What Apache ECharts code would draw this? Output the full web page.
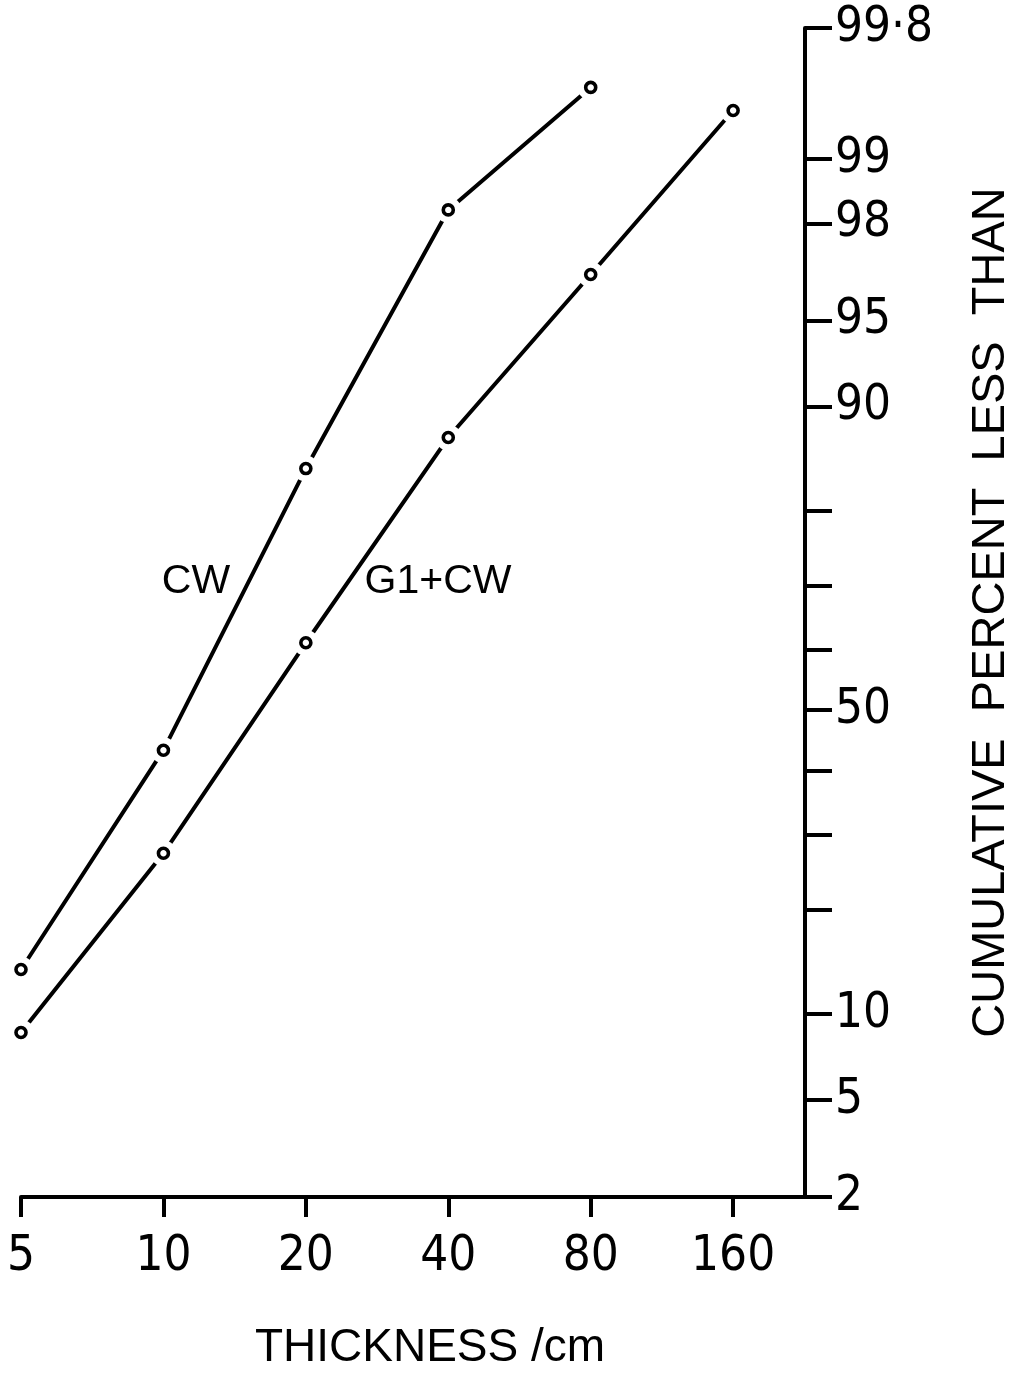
<!DOCTYPE html>
<html>
<head>
<meta charset="utf-8">
<script src="https://cdn.jsdelivr.net/npm/echarts@6/dist/echarts.min.js"></script>
<style>
  html, body { margin: 0; padding: 0; background: #ffffff; }
  #chart { width: 1021px; height: 1376px; }
</style>
</head>
<body>
<div id="chart"></div>
<script>
// Bed thickness (cm) against cumulative percent less than, on a
// log2 thickness scale and a normal-probability percent scale.
const thicknessCW = [5, 10, 20, 40, 80];
const percentCW = [13.7, 43.3, 84.6, 98.26, 99.57];

const thicknessG1CW = [5, 10, 20, 40, 80, 160];
const percentG1CW = [8.7, 27.3, 61.2, 87.5, 96.7, 99.43];

const xTickValues = [5, 10, 20, 40, 80, 160];
const xTickLabels = ['5', '10', '20', '40', '80', '160'];
const xAxisEnd = 227;

const yTickPercents = [2, 5, 10, 20, 30, 40, 50, 60, 70, 80, 90, 95, 98, 99, 99.8];
const yLabelPercents = [2, 5, 10, 50, 90, 95, 98, 99, 99.8];
const yLabelTexts = ['2', '5', '10', '50', '90', '95', '98', '99', '99·8'];

// Inverse standard normal CDF (Acklam's rational approximation)
function probit(p) {
  const a = [-3.969683028665376e+01, 2.209460984245205e+02, -2.759285104469687e+02,
             1.383577518672690e+02, -3.066479806614716e+01, 2.506628277459239e+00];
  const b = [-5.447609879822406e+01, 1.615858368580409e+02, -1.556989798598866e+02,
             6.680131188771972e+01, -1.328068155288572e+01];
  const c = [-7.784894002430293e-03, -3.223964580411365e-01, -2.400758277161838e+00,
             -2.549732539343734e+00, 4.374664141464968e+00, 2.938163982698783e+00];
  const d = [7.784695709041462e-03, 3.224671290700398e-01, 2.445134137142996e+00,
             3.754408661907416e+00];
  const pl = 0.02425, ph = 1 - pl;
  let q, r;
  if (p < pl) {
    q = Math.sqrt(-2 * Math.log(p));
    return (((((c[0] * q + c[1]) * q + c[2]) * q + c[3]) * q + c[4]) * q + c[5]) /
           ((((d[0] * q + d[1]) * q + d[2]) * q + d[3]) * q + 1);
  }
  if (p <= ph) {
    q = p - 0.5; r = q * q;
    return (((((a[0] * r + a[1]) * r + a[2]) * r + a[3]) * r + a[4]) * r + a[5]) * q /
           (((((b[0] * r + b[1]) * r + b[2]) * r + b[3]) * r + b[4]) * r + 1);
  }
  q = Math.sqrt(-2 * Math.log(1 - p));
  return -(((((c[0] * q + c[1]) * q + c[2]) * q + c[3]) * q + c[4]) * q + c[5]) /
          ((((d[0] * q + d[1]) * q + d[2]) * q + d[3]) * q + 1);
}

// Axis transforms: doublings above 5 cm, and normal score of the percent
const tx = t => Math.log2(t / 5);
const ty = pct => probit(pct / 100);

const pairs = (xs, ys) => xs.map((x, i) => [tx(x), ty(ys[i])]);
const dataCW = pairs(thicknessCW, percentCW);
const dataG1CW = pairs(thicknessG1CW, percentG1CW);

const INK = '#000000';
const PAPER = '#ffffff';
const NUM_FONT = '"Liberation Sans Narrow", "DejaVu Sans Condensed", "Liberation Sans", sans-serif';
const TXT_FONT = '"Liberation Sans", "DejaVu Sans", sans-serif';

const lineSeries = (name, data) => ({
  name, type: 'line', data, z: 2,
  showSymbol: false, silent: true,
  lineStyle: { color: INK, width: 4 }
});
// Paper-coloured disc over the line around each point so the line stops short of it
const haloSeries = data => ({
  type: 'scatter', data, z: 10, silent: true,
  symbol: 'circle', symbolSize: 26,
  itemStyle: { color: PAPER, opacity: 1 }
});
// Small open circle marking each point
const ringSeries = data => ({
  type: 'scatter', data, z: 11, silent: true,
  symbol: 'circle', symbolSize: 10,
  itemStyle: { color: PAPER, borderColor: INK, borderWidth: 3.6, opacity: 1 }
});

const chart = echarts.init(document.getElementById('chart'), null, { renderer: 'canvas' });

chart.setOption({
  backgroundColor: PAPER,
  animation: false,
  grid: { left: 21, right: 216, top: 28, bottom: 179, containLabel: false, outerBoundsMode: 'none' },
  xAxis: {
    type: 'value',
    min: 0,
    max: tx(xAxisEnd),
    splitLine: { show: false },
    axisLine: { show: true, onZero: false, lineStyle: { color: INK, width: 4 } },
    axisTick: {
      show: true, inside: false, length: 20,
      customValues: xTickValues.map(tx),
      lineStyle: { color: INK, width: 4 }
    },
    axisLabel: {
      customValues: xTickValues.map(tx),
      margin: 36,
      color: INK,
      fontFamily: NUM_FONT,
      fontSize: 49,
      formatter: v => {
        const i = xTickValues.findIndex(t => Math.abs(tx(t) - v) < 1e-6);
        return i >= 0 ? xTickLabels[i] : '';
      }
    },
    name: 'THICKNESS /cm',
    nameLocation: 'middle',
    nameGap: 128,
    nameTextStyle: { color: INK, fontFamily: TXT_FONT, fontSize: 46, padding: [0, 0, 0, 34] }
  },
  yAxis: {
    type: 'value',
    position: 'right',
    min: ty(2),
    max: ty(99.8),
    splitLine: { show: false },
    axisLine: { show: true, onZero: false, lineStyle: { color: INK, width: 4 } },
    axisTick: {
      show: true, inside: false, length: 27,
      customValues: yTickPercents.map(ty),
      lineStyle: { color: INK, width: 4 }
    },
    axisLabel: {
      customValues: yLabelPercents.map(ty),
      margin: 30,
      color: INK,
      fontFamily: NUM_FONT,
      fontSize: 49,
      formatter: v => {
        const i = yLabelPercents.findIndex(p => Math.abs(ty(p) - v) < 1e-6);
        return i >= 0 ? yLabelTexts[i] : '';
      }
    },
    name: 'CUMULATIVE  PERCENT  LESS  THAN',
    nameLocation: 'middle',
    nameRotate: 90,
    nameGap: 163,
    nameTextStyle: { color: INK, fontFamily: TXT_FONT, fontSize: 47 }
  },
  graphic: [
    {
      type: 'text', x: 196, y: 582, z: 20,
      style: { text: 'CW', fill: INK, font: '41px ' + TXT_FONT, align: 'center', verticalAlign: 'middle' }
    },
    {
      type: 'text', x: 438, y: 582, z: 20,
      style: { text: 'G1+CW', fill: INK, font: '41px ' + TXT_FONT, align: 'center', verticalAlign: 'middle' }
    }
  ],
  series: [
    lineSeries('CW', dataCW),
    lineSeries('G1+CW', dataG1CW),
    haloSeries(dataCW),
    haloSeries(dataG1CW),
    ringSeries(dataCW),
    ringSeries(dataG1CW)
  ]
});
</script>
</body>
</html>
